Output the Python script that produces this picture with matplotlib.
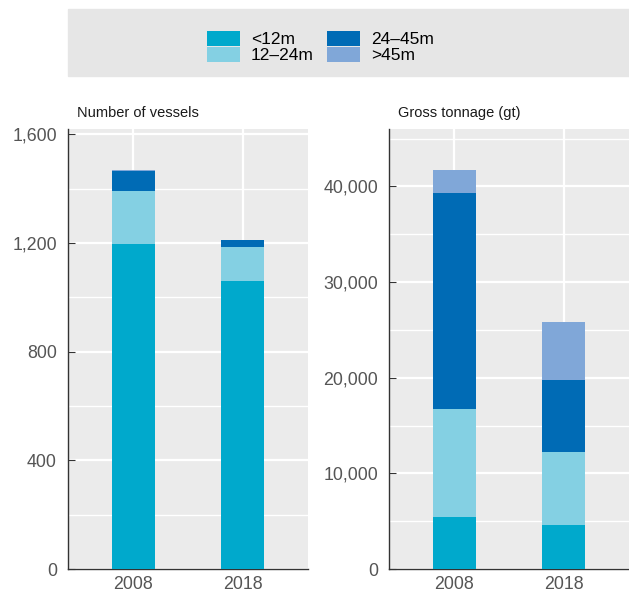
import matplotlib
matplotlib.use("Agg")
import matplotlib.pyplot as plt
from matplotlib.ticker import MultipleLocator, StrMethodFormatter

plt.rcParams['font.family'] = ['Liberation Sans', 'DejaVu Sans']

years = ['2008', '2018']
classes = ['<12m', '12\u201324m', '24\u201345m', '>45m']
colors = ['#00a9cc', '#84d0e3', '#006bb5', '#80a7d8']

# number of vessels per length class
vessels = {
    '<12m': [1196, 1059],
    '12\u201324m': [194, 126],
    '24\u201345m': [77, 26],
    '>45m': [3, 2],
}
# gross tonnage per length class
tonnage = {
    '<12m': [5400, 4560],
    '12\u201324m': [11280, 7630],
    '24\u201345m': [22660, 7620],
    '>45m': [2400, 6060],
}

fig = plt.figure(figsize=(6.29, 5.93), dpi=100)

# grey legend band on top
fig.patches.append(plt.Rectangle((68/629, 1-76/593), 561/629, 67/593,
                                 transform=fig.transFigure, color='#e6e6e6', zorder=0))

ax1 = fig.add_axes([68/629, 1-569/593, 240/629, 440/593])
ax2 = fig.add_axes([389/629, 1-569/593, 240/629, 440/593])


def draw(ax, data, ylim, major, minor, title, title_x):
    ax.set_facecolor('#ebebeb')
    x = range(len(years))
    bottom = [0] * len(years)
    bars = []
    for c, col in zip(classes, colors):
        b = ax.bar(x, data[c], 0.4, bottom=bottom, color=col, label=c, zorder=3)
        bars.append(b)
        bottom = [a + v for a, v in zip(bottom, data[c])]
    ax.set_xlim(-0.6, 1.6)
    ax.set_ylim(0, ylim)
    ax.set_xticks(list(x))
    ax.set_xticklabels(years)
    ax.yaxis.set_major_locator(MultipleLocator(major))
    ax.yaxis.set_minor_locator(MultipleLocator(minor))
    ax.yaxis.set_major_formatter(StrMethodFormatter('{x:,.0f}'))
    ax.grid(True, which='major', color='white', linewidth=1.6, zorder=1)
    ax.grid(True, which='minor', axis='y', color='white', linewidth=1.0, zorder=1)
    ax.set_axisbelow(True)
    for s in ['top', 'right']:
        ax.spines[s].set_visible(False)
    for s in ['left', 'bottom']:
        ax.spines[s].set_color('#333333')
        ax.spines[s].set_linewidth(1.0)
    ax.tick_params(axis='both', which='major', direction='in', length=5,
                   color='#333333', labelcolor='#555555', labelsize=12.8)
    ax.tick_params(axis='y', which='major', pad=8)
    ax.tick_params(axis='x', which='major', pad=5)
    ax.tick_params(axis='y', which='minor', length=0)
    fig.text(title_x/629, 1-113/593, title, fontsize=10.5, color='#1a1a1a', va='center')
    return bars


bars = draw(ax1, vessels, 1620, 400, 200, 'Number of vessels', 77)
draw(ax2, tonnage, 46000, 10000, 5000, 'Gross tonnage (gt)', 398)

fig.legend(bars, classes, loc='center', bbox_to_anchor=(320.5/629, 1-47/593),
           ncol=2, frameon=False, fontsize=12.5, handlelength=1.9, handleheight=1.0,
           labelspacing=-0.04, handletextpad=0.63, columnspacing=0.75, borderpad=0)

fig.savefig('out.png', dpi=100)
